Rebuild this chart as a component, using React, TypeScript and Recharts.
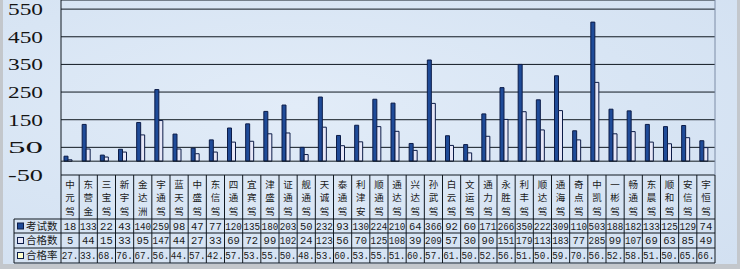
import React from 'react';
import { BarChart, Bar, XAxis, YAxis, CartesianGrid, ReferenceLine } from 'recharts';

const categories = [
  '中元驾', '东营金', '三宝驾', '新宇驾', '金达洲', '宇通驾', '蓝天驾', '中盛驾', '东信驾',
  '四通驾', '宜宾驾', '津盛驾', '证通驾', '舰通驾', '天诚驾', '泰通驾', '利津安', '顺通驾',
  '通达驾', '兴达驾', '孙武驾', '白云驾', '文运驾', '通力驾', '永胜驾', '利丰驾', '顺达驾',
  '通海驾', '奇点驾', '中凯驾', '一彬驾', '畅通驾', '东晨驾', '顺和驾', '安信驾', '宇恒驾',
];

const exams = [
  18, 133, 22, 43, 140, 259, 98, 47, 77, 120, 135, 180, 203, 50, 232, 93, 130, 224,
  210, 64, 366, 92, 60, 171, 266, 350, 222, 309, 110, 503, 188, 182, 133, 125, 129, 74,
];

const passed = [
  5, 44, 15, 33, 95, 147, 44, 27, 33, 69, 72, 99, 102, 24, 123, 56, 70, 125,
  108, 39, 209, 57, 30, 90, 151, 179, 113, 183, 77, 285, 99, 107, 69, 63, 85, 49,
];

// pass rate as a fraction, the table only shows the cut-off text ("27.")
const rates = [
  0.27, 0.33, 0.68, 0.76, 0.67, 0.56, 0.44, 0.57, 0.42, 0.57, 0.53, 0.55, 0.50, 0.48, 0.53, 0.60, 0.53, 0.55,
  0.51, 0.60, 0.57, 0.61, 0.50, 0.52, 0.56, 0.51, 0.50, 0.59, 0.70, 0.56, 0.52, 0.58, 0.51, 0.50, 0.65, 0.66,
];

const yTicks = [-50, 50, 150, 250, 350, 450, 550];

const seriesNames = ['考试数', '合格数', '合格率'];

const data = categories.map((name, i) => ({
  name,
  exams: exams[i],
  passed: passed[i],
  rate: rates[i],
}));

const DARK = '#1f4b98';
const LIGHT = '#e7e7f7';
const PALE = '#ffffcc';
const EDGE = '#0c1c48';
const LINE = '#101820';

const PLOT_LEFT = 61;
const PLOT_RIGHT = 715;
const PLOT_BOTTOM = 175;
const COL = (PLOT_RIGHT - PLOT_LEFT) / categories.length;
const ROWS = [219, 233, 248, 263];
const TABLE_LEFT = 14;

const cjk = '"Noto Sans CJK SC", "Noto Sans", sans-serif';
const mono = '"Liberation Mono", "DejaVu Sans Mono", monospace';

const YTick = ({ y, payload }: any) => (
  <text
    x={8}
    y={y}
    dy="0.35em"
    fontFamily='"Liberation Serif", serif'
    fontSize={17}
    textLength={35}
    lengthAdjust="spacingAndGlyphs"
    fill="#141414"
  >
    {payload.value}
  </text>
);

const keyColors = [DARK, LIGHT, PALE];

const TableTick = ({ x, payload }: any) => {
  const i = payload.index;
  const l = x - COL / 2;
  const r = x + COL / 2;
  const cells = [String(exams[i]), String(passed[i]), `${Math.floor(rates[i] * 100 + 0.001)}.`];
  return (
    <g>
      {String(payload.value).split('').map((c, k) => (
        <text key={k} x={x} y={184.5 + k * 13.5} dy="0.35em" textAnchor="middle"
          fontFamily={cjk} fontSize={9.5} fill="#1a1a1a">{c}</text>
      ))}
      {cells.map((t, k) => (
        <text key={'v' + k} x={x} y={(ROWS[k] + ROWS[k + 1]) / 2} dy="0.36em" textAnchor="middle"
          fontFamily={mono} fontSize={10.5} fill="#1a1a1a"
          textLength={t.length >= 3 ? COL - 1.5 : undefined}
          lengthAdjust="spacingAndGlyphs">{t}</text>
      ))}
      <line x1={r} y1={PLOT_BOTTOM} x2={r} y2={ROWS[3]} stroke={LINE} />
      {ROWS.map((ry) => (
        <line key={ry} x1={l} y1={ry} x2={r} y2={ry} stroke={LINE} />
      ))}
      {i === 0 && (
        <g>
          <line x1={l} y1={PLOT_BOTTOM} x2={l} y2={ROWS[3]} stroke={LINE} />
          <line x1={TABLE_LEFT} y1={ROWS[0]} x2={TABLE_LEFT} y2={ROWS[3]} stroke={LINE} />
          {ROWS.map((ry) => (
            <line key={'h' + ry} x1={TABLE_LEFT} y1={ry} x2={l} y2={ry} stroke={LINE} />
          ))}
          {seriesNames.map((s, k) => {
            const cy = (ROWS[k] + ROWS[k + 1]) / 2;
            return (
              <g key={s}>
                <rect x={17.5} y={cy - 3} width={6} height={6} fill={keyColors[k]} stroke={EDGE} />
                <text x={26} y={cy} dy="0.36em" fontFamily={cjk} fontSize={10.5} fill="#1a1a1a">{s}</text>
              </g>
            );
          })}
        </g>
      )}
      {i === categories.length - 1 && (
        <line x1={r} y1={0} x2={r} y2={PLOT_BOTTOM} stroke="#7d8ca6" />
      )}
    </g>
  );
};

export default function App() {
  return (
    <div style={{ position: 'absolute', left: 0, top: 0, width: 740, height: 269, background: '#c3c7cc', overflow: 'hidden' }}>
      <div style={{
        position: 'absolute', left: 3, top: 0, width: 734, height: 264,
        background: 'radial-gradient(ellipse at 40% 40%, #e2ecf8 0%, #d8e5f4 55%, #d2e0f1 100%)',
      }} />
      <div style={{ position: 'absolute', left: 0, top: 0 }}>
        <BarChart
          width={740}
          height={269}
          data={data}
          margin={{ top: 0, right: 740 - PLOT_RIGHT, bottom: 0, left: 0 }}
          barGap={0}
          barSize={4}
        >
          <CartesianGrid horizontal vertical={false} stroke={LINE} strokeOpacity={1} />
          <XAxis
            dataKey="name"
            height={269 - PLOT_BOTTOM}
            axisLine={false}
            tickLine={false}
            interval={0}
            tick={<TableTick />}
          />
          <YAxis
            width={PLOT_LEFT}
            domain={[-50, 583]}
            ticks={yTicks}
            allowDataOverflow
            axisLine={{ stroke: LINE }}
            tickLine={false}
            tick={<YTick />}
          />
          <ReferenceLine y={0} stroke={LINE} />
          <Bar dataKey="exams" name={seriesNames[0]} fill={DARK} stroke={EDGE} strokeWidth={1} isAnimationActive={false} />
          <Bar dataKey="passed" name={seriesNames[1]} fill={LIGHT} stroke={EDGE} strokeWidth={1} isAnimationActive={false} />
          <Bar dataKey="rate" name={seriesNames[2]} fill={PALE} stroke="none" isAnimationActive={false} />
        </BarChart>
      </div>
    </div>
  );
}
